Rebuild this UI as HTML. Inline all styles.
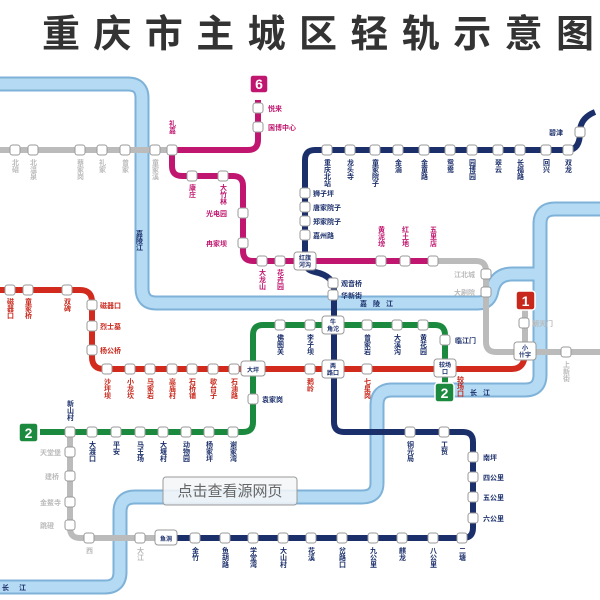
<!DOCTYPE html>
<html><head><meta charset="utf-8"><style>
html,body{margin:0;padding:0;background:#fff;width:600px;height:600px;overflow:hidden}
svg{display:block;font-family:"Liberation Sans","Noto Sans CJK SC",sans-serif}
.v{writing-mode:vertical-rl;font-size:7px;font-weight:bold}
.h{font-size:7px;font-weight:bold}
.n{fill:#1b2f6b}.r{fill:#c8281c}.m{fill:#c0166f}.g{fill:#bbb}
</style></head><body>
<svg width="600" height="600" viewBox="0 0 600 600">
<defs><rect id="s" x="-5" y="-5" width="10" height="10" rx="2.5" fill="#fff" stroke="#999" stroke-width="1"/></defs>
<text x="42" y="47" font-size="38" font-weight="bold" fill="#333" textLength="552" lengthAdjust="spacing" font-family="'Noto Sans CJK SC',sans-serif">重庆市主城区轻轨示意图</text>
<!-- rivers -->
<g fill="none" stroke-linejoin="round">
<path d="M0,84 H128 Q142,84 142,98 V288 Q142,303 156,303 H478 Q490,303 492,290 Q496,274 512,274 H540" stroke="#7fb2d8" stroke-width="15"/>
<path d="M600,209 H555 Q540,209 540,224 V375 Q540,390 525,390 H392 Q377,390 377,405 V483 Q377,497 362,497 H135 Q120,497 120,512 V572 Q120,587 105,587 H0" stroke="#7fb2d8" stroke-width="15"/>
<path d="M0,84 H128 Q142,84 142,98 V288 Q142,303 156,303 H478 Q490,303 492,290 Q496,274 512,274 H540" stroke="#b4dbf3" stroke-width="11"/>
<path d="M600,209 H555 Q540,209 540,224 V375 Q540,390 525,390 H392 Q377,390 377,405 V483 Q377,497 362,497 H135 Q120,497 120,512 V572 Q120,587 105,587 H0" stroke="#b4dbf3" stroke-width="11"/>
</g>
<text x="139" y="230" class="v" fill="#1b2f6b">嘉陵江</text>
<text x="360" y="306" class="h" fill="#1b2f6b" letter-spacing="6">嘉陵江</text>
<text x="470" y="395" class="h" fill="#1b2f6b" letter-spacing="6">长江</text>
<text x="2" y="590" class="h" fill="#1b2f6b" letter-spacing="10">长江</text>
<!-- lines -->
<g fill="none" stroke-width="6" stroke-linejoin="round">
<path d="M0,150 H172" stroke="#bbb"/>
<path d="M172,150 H248 Q258,150 258,140 V100" stroke="#c0166f"/>
<path d="M172,150 V166 Q172,176 182,176 H233 Q243,176 243,186 V251 Q243,261 253,261 H433" stroke="#c0166f"/>
<path d="M433,261 H476 Q486,261 486,271 V342 Q486,352 496,352 H600" stroke="#bbb"/>
<path d="M595,112 Q580,118 580,132 Q580,150 568,150 H315 Q305,150 305,160 V261 Q305,270 315,272 Q334,276 334,290 V422 Q334,432 344,432 H463 Q473,432 473,442 V528 Q473,538 463,538 H162" stroke="#1b2f6b"/>
<path d="M162,538 H80 Q70,538 70,528 V432" stroke="#bbb"/>
<path d="M40,432 H243 Q253,432 253,422 V335 Q253,325 263,325 H435 Q445,325 445,335 V392" stroke="#1c8a3e"/>
<path d="M0,290 H80 Q92,290 92,302 V357 Q92,369 104,369 H512 Q525,369 525,352 V300" stroke="#d22a1c"/>
</g>
<path d="M40,432 H60" stroke="#1c8a3e" stroke-width="2"/>
<path d="M525,308 V352" stroke="#bbb" stroke-width="6"/>
<!-- badges -->
<rect x="250" y="75" width="18" height="18" rx="3" fill="#c0166f" stroke="#fff" stroke-width="1.5"/><text x="259" y="89" font-size="14" font-weight="bold" fill="#fff" text-anchor="middle">6</text>
<rect x="516" y="291" width="19" height="19" rx="3" fill="#c8281c" stroke="#fff" stroke-width="1.5"/><text x="525.5" y="306" font-size="14" font-weight="bold" fill="#fff" text-anchor="middle">1</text>
<rect x="435" y="383" width="19" height="19" rx="3" fill="#1c8a3e" stroke="#fff" stroke-width="1.5"/><text x="444.5" y="398" font-size="14" font-weight="bold" fill="#fff" text-anchor="middle">2</text>
<rect x="19" y="423" width="19" height="19" rx="3" fill="#1c8a3e" stroke="#fff" stroke-width="1.5"/><text x="28.5" y="438" font-size="14" font-weight="bold" fill="#fff" text-anchor="middle">2</text>
<!-- stations -->
<g>
<use href="#s" x="15" y="150"/><use href="#s" x="33" y="150"/><use href="#s" x="80" y="150"/><use href="#s" x="102" y="150"/><use href="#s" x="125" y="150"/><use href="#s" x="155" y="150"/><use href="#s" x="172" y="150"/>
<use href="#s" x="258" y="108"/><use href="#s" x="258" y="127"/>
<use href="#s" x="192" y="176"/><use href="#s" x="223" y="176"/><use href="#s" x="243" y="213"/><use href="#s" x="243" y="243"/><use href="#s" x="262" y="261"/><use href="#s" x="280" y="261"/>
<use href="#s" x="381" y="261"/><use href="#s" x="405" y="261"/><use href="#s" x="433" y="261"/>
<use href="#s" x="486" y="274"/><use href="#s" x="486" y="292"/><use href="#s" x="524" y="323"/><use href="#s" x="566" y="352"/>
<use href="#s" x="327" y="150"/><use href="#s" x="350" y="150"/><use href="#s" x="375" y="150"/><use href="#s" x="398" y="150"/><use href="#s" x="424" y="150"/><use href="#s" x="450" y="150"/><use href="#s" x="472" y="150"/><use href="#s" x="498" y="150"/><use href="#s" x="520" y="150"/><use href="#s" x="546" y="150"/><use href="#s" x="568" y="150"/><use href="#s" x="580" y="132"/>
<use href="#s" x="305" y="193"/><use href="#s" x="305" y="207"/><use href="#s" x="305" y="221"/><use href="#s" x="305" y="235"/>
<use href="#s" x="333" y="283"/><use href="#s" x="333" y="295"/>
<use href="#s" x="410" y="432"/><use href="#s" x="444" y="432"/>
<use href="#s" x="473" y="457"/><use href="#s" x="473" y="477"/><use href="#s" x="473" y="497"/><use href="#s" x="473" y="518"/>
<use href="#s" x="462" y="538"/><use href="#s" x="433" y="538"/><use href="#s" x="402" y="538"/><use href="#s" x="373" y="538"/><use href="#s" x="342" y="538"/><use href="#s" x="311" y="538"/><use href="#s" x="283" y="538"/><use href="#s" x="253" y="538"/><use href="#s" x="225" y="538"/><use href="#s" x="195" y="538"/>
<use href="#s" x="140" y="538"/><use href="#s" x="89" y="538"/><use href="#s" x="70" y="525"/><use href="#s" x="70" y="502"/><use href="#s" x="70" y="476"/><use href="#s" x="70" y="452"/><use href="#s" x="70" y="432"/>
<use href="#s" x="92" y="432"/><use href="#s" x="116" y="432"/><use href="#s" x="140" y="432"/><use href="#s" x="163" y="432"/><use href="#s" x="186" y="432"/><use href="#s" x="209" y="432"/><use href="#s" x="233" y="432"/><use href="#s" x="253" y="399"/>
<use href="#s" x="280" y="325"/><use href="#s" x="310" y="325"/><use href="#s" x="367" y="325"/><use href="#s" x="397" y="325"/><use href="#s" x="423" y="325"/><use href="#s" x="445" y="340"/>
<use href="#s" x="10" y="290"/><use href="#s" x="28" y="290"/><use href="#s" x="67" y="290"/><use href="#s" x="92" y="305"/><use href="#s" x="92" y="326"/><use href="#s" x="92" y="350"/>
<use href="#s" x="107" y="369"/><use href="#s" x="130" y="369"/><use href="#s" x="150" y="369"/><use href="#s" x="172" y="369"/><use href="#s" x="192" y="369"/><use href="#s" x="213" y="369"/><use href="#s" x="234" y="369"/><use href="#s" x="310" y="369"/><use href="#s" x="367" y="369"/>
</g>
<!-- interchanges -->
<g fill="#fff" stroke="#999">
<rect x="294" y="252" width="22" height="18" rx="3"/><rect x="322" y="316" width="22" height="18" rx="3"/><rect x="322" y="360" width="22" height="18" rx="3"/>
<rect x="241" y="361" width="24" height="15" rx="3"/><rect x="434" y="359" width="22" height="18" rx="3"/><rect x="514" y="342" width="22" height="18" rx="3"/><rect x="155" y="530" width="22" height="15" rx="3"/>
</g>
<g class="h" fill="#1b2f6b" text-anchor="middle" font-size="6">
<text x="305" y="260" font-size="6">红旗</text><text x="305" y="267" font-size="6">河沟</text>
<text x="333" y="324" font-size="6">牛</text><text x="333" y="331" font-size="6">角沱</text>
<text x="333" y="368" font-size="6">两</text><text x="333" y="375" font-size="6">路口</text>
<text x="253" y="372" font-size="6">大坪</text><text x="445" y="367" font-size="6">较场</text><text x="445" y="374" font-size="6">口</text>
<text x="525" y="350" font-size="6">小</text><text x="525" y="357" font-size="6">什字</text><text x="166" y="541" font-size="6">鱼洞</text>
</g>
<!-- labels -->
<g class="v n">
<text x="327" y="159">重庆北站</text><text x="350" y="159">龙头寺</text><text x="375" y="159">童家院子</text><text x="398" y="159">金渝</text><text x="424" y="159">金童路</text><text x="450" y="159">鸳鸯</text><text x="472" y="159">园博园</text><text x="498" y="159">翠云</text><text x="520" y="159">长福路</text><text x="546" y="159">回兴</text><text x="568" y="159">双龙</text>
<text x="410" y="441">铜元局</text><text x="444" y="441">工贸</text>
<text x="462" y="547">二塘</text><text x="433" y="547">八公里</text><text x="402" y="547">麒龙</text><text x="373" y="547">九公里</text><text x="342" y="547">岔路口</text><text x="311" y="547">花溪</text><text x="283" y="547">大山村</text><text x="253" y="547">学堂湾</text><text x="225" y="547">鱼胡路</text><text x="195" y="547">金竹</text>
<text x="92" y="441">大渡口</text><text x="116" y="441">平安</text><text x="140" y="441">马王场</text><text x="163" y="441">大堰村</text><text x="186" y="441">动物园</text><text x="209" y="441">杨家坪</text><text x="233" y="441">谢家湾</text>
<text x="70" y="400">新山村</text>
<text x="280" y="334">佛图关</text><text x="310" y="334">李子坝</text><text x="367" y="334">曾家岩</text><text x="397" y="334">大溪沟</text><text x="423" y="334">黄花园</text>
</g>
<g class="h n">
<text x="313" y="196">狮子坪</text><text x="313" y="210">唐家院子</text><text x="313" y="224">郑家院子</text><text x="313" y="238">嘉州路</text>
<text x="341" y="286">观音桥</text><text x="341" y="298">华新街</text>
<text x="563" y="135" text-anchor="end">碧津</text>
<text x="483" y="460">南坪</text><text x="483" y="480">四公里</text><text x="483" y="500">五公里</text><text x="483" y="521">六公里</text>
<text x="262" y="402">袁家岗</text><text x="455" y="343">临江门</text>
</g>
<g class="v m">
<text x="172" y="120">礼嘉</text><text x="192" y="184">康庄</text><text x="223" y="184">大竹林</text><text x="262" y="269">大龙山</text><text x="280" y="269">花卉园</text>
<text x="381" y="226">黄泥塝</text><text x="405" y="226">红土地</text><text x="433" y="226">五里店</text>
</g>
<g class="h m"><text x="268" y="111">悦来</text><text x="268" y="130">国博中心</text><text x="206" y="216">光电园</text><text x="206" y="246">冉家坝</text></g>
<g class="v r">
<text x="107" y="378">沙坪坝</text><text x="130" y="378">小龙坎</text><text x="150" y="378">马家岩</text><text x="172" y="378">高庙村</text><text x="192" y="378">石桥铺</text><text x="213" y="378">歇台子</text><text x="234" y="378">石油路</text><text x="310" y="378">鹅岭</text><text x="367" y="378">七星岗</text><text x="460" y="376">较场口</text>
<text x="10" y="298">磁器口</text><text x="28" y="298">童家桥</text><text x="67" y="298">双碑</text>
</g>
<g class="h r"><text x="100" y="308">磁器口</text><text x="100" y="329">烈士墓</text><text x="100" y="353">杨公桥</text></g>
<g class="v g">
<text x="15" y="159">北碚</text><text x="33" y="159">北温泉</text><text x="80" y="159">蔡家岗</text><text x="102" y="159">礼家</text><text x="125" y="159">曾家</text><text x="155" y="159">童家溪</text><text x="566" y="361">上新街</text><text x="89" y="547">西</text><text x="140" y="547">大江</text>
</g>
<g class="h g"><text x="454" y="277">江北城</text><text x="454" y="295">大剧院</text><text x="532" y="326">朝天门</text><text x="40" y="455">天堂堡</text><text x="45" y="479">建桥</text><text x="40" y="505">金鳌寺</text><text x="40" y="528">跳磴</text></g>
<!-- watermark -->
<rect x="163" y="477" width="134" height="28" rx="3" fill="#f4f6f8" fill-opacity="0.85" stroke="#999"/>
<text x="230" y="496" font-size="15" fill="#666" text-anchor="middle" font-family="'Noto Sans CJK SC',sans-serif">点击查看源网页</text>
</svg>
</body></html>
